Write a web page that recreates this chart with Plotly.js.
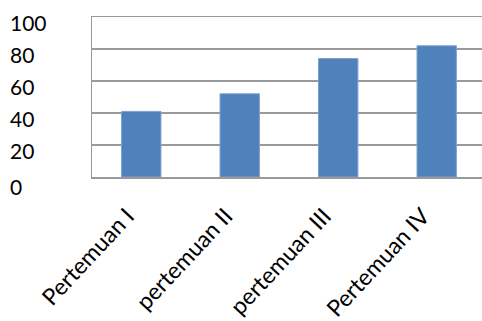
<!DOCTYPE html>
<html>
<head>
<meta charset="utf-8">
<script src="https://cdn.plot.ly/plotly-3.0.1.min.js"></script>
<style>
html,body{margin:0;padding:0;background:#fff;overflow:hidden;}
#chart{width:482px;height:321px;}
</style>
</head>
<body>
<div id="chart"></div>
<script>
const categories = ["Pertemuan I", "pertemuan II", "pertemuan III", "Pertemuan IV"];
const values = [41, 52, 74, 82];
const yTickValues = [0, 20, 40, 60, 80, 100];
const yTickLabels = ["0", "20", "40", "60", "80", "100"];

const FONT = "Lato, Calibri, sans-serif";

const trace = {
  type: "bar",
  x: categories,
  y: values,
  marker: {color: "#4F81BD", line: {color: "#7FA0CC", width: 1}},
  hoverinfo: "none"
};

const annotations = yTickValues.map((v, i) => ({
  xref: "paper", yref: "y",
  x: -0.215, y: v,
  xanchor: "left", yanchor: "middle",
  yshift: v === 0 ? -9 : -5,
  text: yTickLabels[i],
  showarrow: false,
  font: {family: FONT, size: 21, color: "#000"}
}));

const layout = {
  width: 482, height: 321,
  margin: {l: 92, r: 0, t: 17, b: 144, pad: 0},
  paper_bgcolor: "#fff",
  plot_bgcolor: "#fff",
  showlegend: false,
  bargap: 0.6,
  font: {family: FONT, size: 21, color: "#000"},
  xaxis: {
    type: "category",
    range: [-0.5, 3.46],
    tickangle: -47,
    showgrid: false,
    showline: true, mirror: true, linecolor: "#9a9a9a", linewidth: 1.5,
    ticks: "",
    ticklabelstandoff: 15,
    ticklabelshift: -14,
    tickfont: {family: FONT, size: 23, color: "#000"},
    fixedrange: true
  },
  yaxis: {
    range: [0, 100],
    tickvals: yTickValues,
    showticklabels: false,
    showgrid: true, gridcolor: "#9a9a9a", gridwidth: 1.5,
    zeroline: false,
    showline: true, linecolor: "#9a9a9a", linewidth: 1.5,
    ticks: "",
    fixedrange: true
  },
  annotations: annotations
};

Plotly.newPlot("chart", [trace], layout, {displayModeBar: false, staticPlot: true});
</script>
</body>
</html>
